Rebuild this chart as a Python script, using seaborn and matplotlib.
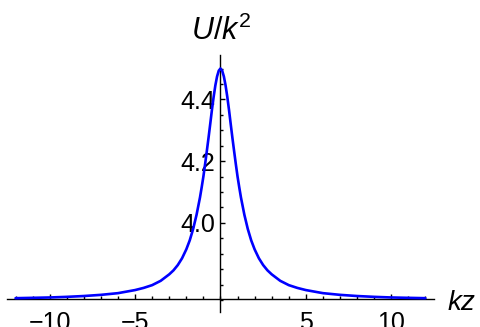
import matplotlib
matplotlib.use('Agg')
import matplotlib.pyplot as plt
from matplotlib.ticker import MultipleLocator, FixedLocator
import numpy as np
import pandas as pd
import seaborn as sns

# values (symmetric peak around kz = 0)
kz_half = [0, 0.1, 0.2, 0.3, 0.4, 0.5, 0.6, 0.7, 0.8, 0.9, 1.0, 1.1, 1.2,
           1.4, 1.6, 1.8, 2.0, 2.25, 2.5, 2.75, 3.0, 3.5, 4.0, 4.5, 5.0,
           6.0, 7.0, 8.0, 9.0, 10.0, 11.0, 12.0]
u_half = [4.500, 4.493, 4.474, 4.445, 4.408, 4.366, 4.320, 4.275, 4.232,
          4.190, 4.150, 4.115, 4.082, 4.026, 3.980, 3.943, 3.914, 3.885,
          3.863, 3.846, 3.833, 3.812, 3.798, 3.789, 3.782, 3.772, 3.7665,
          3.7627, 3.760, 3.758, 3.7568, 3.7557]

kz = [-x for x in kz_half[:0:-1]] + kz_half
u = u_half[:0:-1] + u_half
df = pd.DataFrame({'kz': kz, 'U': u})

x_major = [-10, -5, 5, 10]
y_major = [4.0, 4.2, 4.4]
y_labels = ['4.0', '4.2', '4.4']

sns.set_style('white')
plt.rcParams['font.family'] = ['Liberation Sans', 'DejaVu Sans']
plt.rcParams['mathtext.fontset'] = 'custom'
plt.rcParams['mathtext.rm'] = 'Liberation Sans'
plt.rcParams['mathtext.it'] = 'Liberation Sans:italic'

fig = plt.figure(figsize=(4.8, 3.27), dpi=100)
ax = fig.add_axes([0.0146, 0.045, 0.904 - 0.0146, 0.832 - 0.045])

sns.lineplot(data=df, x='kz', y='U', ax=ax, color='#0000ff', linewidth=1.9,
             sort=False)

ax.set_xlim(-12.5, 12.5)
ax.set_ylim(3.71, 4.544)

for s in ['top', 'right']:
    ax.spines[s].set_visible(False)
ax.spines['left'].set_position(('data', 0))
ax.spines['bottom'].set_position(('data', 3.754))
for s in ['left', 'bottom']:
    ax.spines[s].set_color('black')
    ax.spines[s].set_linewidth(1.0)
    ax.spines[s].set_zorder(1)

ax.xaxis.set_major_locator(FixedLocator(x_major))
ax.xaxis.set_minor_locator(MultipleLocator(1))
ax.yaxis.set_major_locator(FixedLocator(y_major))
ax.yaxis.set_minor_locator(MultipleLocator(0.05))
ax.set_yticklabels(y_labels)

ax.tick_params(axis='both', which='both', direction='in', color='black',
               width=1.0, labelsize=18, labelcolor='black',
               bottom=True, left=True, top=False, right=False)
ax.tick_params(axis='both', which='major', length=3.5)
ax.tick_params(axis='both', which='minor', length=2)
ax.tick_params(axis='x', which='major', pad=9)
ax.tick_params(axis='y', which='major', pad=3.5)

ax.set_xlabel('')
ax.set_ylabel('')
fig.text(221 / 480, 1 - 39.5 / 327, r'$U/k^2$', fontsize=22, color='black',
         ha='center', va='baseline')
fig.text(447 / 480, 1 - 310 / 327, r'$kz$', fontsize=20, color='black',
         ha='left', va='baseline')

fig.savefig('out.png', dpi=100)
